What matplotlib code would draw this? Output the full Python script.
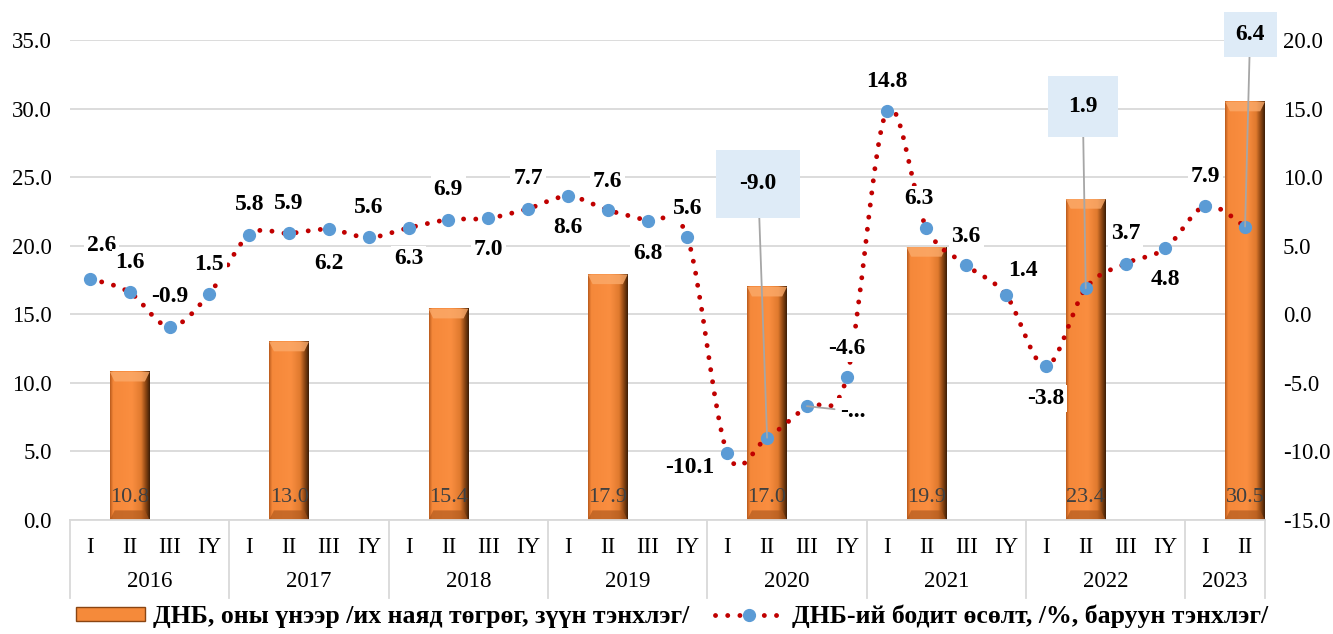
import matplotlib.pyplot as plt
import numpy as np
import matplotlib.transforms as mtransforms
from matplotlib.path import Path
from matplotlib.patches import PathPatch, Polygon, Patch
from matplotlib.lines import Line2D
from matplotlib.colors import LinearSegmentedColormap

plt.rcParams['font.family'] = ['Liberation Serif', 'DejaVu Serif']

# --- Données ---
years = ['2016', '2017', '2018', '2019', '2020', '2021', '2022', '2023']
quarters = ['I', 'II', 'III', 'IY'] * 7 + ['I', 'II']
growth = [2.6, 1.6, -0.9, 1.5,
          5.8, 5.9, 6.2, 5.6,
          6.3, 6.9, 7.0, 7.7,
          8.6, 7.6, 6.8, 5.6,
          -10.1, -9.0, -6.7, -4.6,
          14.8, 6.3, 3.6, 1.4,
          -3.8, 1.9, 3.7, 4.8,
          7.9, 6.4]
gdp_pos = [1, 5, 9, 13, 17, 21, 25, 29]
gdp = [10.8, 13.0, 15.4, 17.9, 17.0, 19.9, 23.4, 30.5]

# décalage des étiquettes (pixels)
label_offsets = [(12, 33), (0, 30), (0, 30), (0, 29),
                 (0, 30), (0, 30), (0, -34), (0, 30),
                 (0, -31), (0, 30), (0, -31), (0, 30),
                 (0, -31), (0, 29), (0, -32), (0, 29),
                 (-38, -15), (-9, 254), (46, -5), (0, 29),
                 (0, 30), (-7, 29), (0, 28), (17, 25),
                 (0, -32), (-3, 182), (0, 30), (0, -31),
                 (0, 29), (5, 192)]
callouts = {17: 1.0, 25: 0.85, 29: 0.5}

x = np.arange(len(growth))

fig = plt.figure(figsize=(13.33, 6.34), dpi=100)
ax = fig.add_axes([70 / 1333, 1 - 520 / 634, 1195 / 1333, 480 / 634])
ax2 = ax.twinx()

# --- Barres (dégradé orange) ---
cmap = LinearSegmentedColormap.from_list('bar', [
    (0.0, '#B85A1C'), (0.08, '#F5883A'), (0.55, '#FA8E40'),
    (0.78, '#E07A2E'), (0.9, '#8A4512'), (1.0, '#3C1D06')])
grad = np.linspace(0, 1, 256).reshape(1, -1)
bars = ax.bar(gdp_pos, gdp, width=1.0, color='#F58A3A', zorder=2)
for b, v in zip(bars, gdp):
    x0, x1 = b.get_x(), b.get_x() + b.get_width()
    ax.imshow(grad, cmap=cmap, extent=[x0, x1, 0, v], aspect='auto',
              zorder=2.1, clip_path=b, clip_on=True)
    xc = (x0 + x1) / 2
    ax.add_patch(Polygon([(x0, v), (x1, v), (x1 - 0.12, v - 0.7), (xc, v - 0.7), (x0 + 0.12, v - 0.7)],
                         closed=True, fc='#FBAA6A', ec='none', alpha=0.8, zorder=2.2))
    ax.add_patch(Polygon([(x0, 0), (x1, 0), (x1 - 0.12, 0.7), (x0 + 0.12, 0.7)],
                         closed=True, fc='#A8541A', ec='none', alpha=0.6, zorder=2.2))
    ax.annotate(f'{v:.1f}', xy=(xc, 0), xytext=(0, 23), textcoords='offset pixels',
                ha='center', va='center', fontsize=16, color='#404040', zorder=3)

# --- Courbe lissée (Bézier) ---
pts = np.column_stack([x, growth]).astype(float)
verts = [pts[0]]
codes = [Path.MOVETO]
for i in range(len(pts) - 1):
    p_prev = pts[i - 1] if i > 0 else pts[i]
    p_next2 = pts[i + 2] if i + 2 < len(pts) else pts[i + 1]
    c1 = pts[i] + (pts[i + 1] - p_prev) / 6
    c2 = pts[i + 1] - (p_next2 - pts[i]) / 6
    verts += [c1, c2, pts[i + 1]]
    codes += [Path.CURVE4] * 3
curve = PathPatch(Path(verts, codes), fill=False, edgecolor='#C00000', lw=3.5,
                  linestyle=(0, (0.01, 2.5)), zorder=3)
curve.set_capstyle('round')
ax2.add_patch(curve)
ax2.plot(x, growth, 'o', color='#5B9BD5', ms=8.5, ls='none', zorder=4)

# --- Étiquettes de la courbe ---
for i, v in enumerate(growth):
    txt = f'{v:.1f}' if i != 18 else '-...'
    kw = dict(xy=(i, v), xytext=label_offsets[i], textcoords='offset pixels',
              ha='center', va='center', fontsize=17, fontweight='bold', zorder=6)
    if i in callouts:
        ax2.annotate(txt, **kw,
                     bbox=dict(boxstyle=f'square,pad={callouts[i]}', fc='#DEEBF7', ec='none'),
                     arrowprops=dict(arrowstyle='-', color='#A6A6A6', lw=1.3, shrinkA=0, shrinkB=0))
    elif i == 18:
        ax2.annotate(txt, **kw,
                     bbox=dict(boxstyle='square,pad=0.12', fc='white', ec='none'),
                     arrowprops=dict(arrowstyle='-', color='#A6A6A6', lw=1.3, shrinkA=2, shrinkB=0))
    else:
        ax2.annotate(txt, **kw, bbox=dict(boxstyle='square,pad=0.12', fc='white', ec='none'))

# --- Axes ---
ax.set_xlim(-0.5, 29.5)
ax.set_ylim(0, 35)
ax2.set_ylim(-15, 20)
ax.set_yticks(np.arange(0, 36, 5))
ax2.set_yticks(np.arange(-15, 21, 5))
ax.set_yticklabels([f'{t:.1f}' for t in np.arange(0, 36, 5)])
ax2.set_yticklabels([f'{t:.1f}' for t in np.arange(-15, 21, 5)])
ax.set_xticks([])
ax.yaxis.grid(True, color='#D9D9D9', lw=1.3)
ax.set_axisbelow(True)
for a in (ax, ax2):
    for s in ('top', 'left', 'right'):
        a.spines[s].set_visible(False)
    a.tick_params(axis='y', length=0, labelsize=16.5, pad=13)
ax2.spines['bottom'].set_visible(False)
ax.spines['bottom'].set_color('#D9D9D9')
ax.spines['bottom'].set_linewidth(1.3)

trans = mtransforms.blended_transform_factory(ax.transData, ax.transAxes)
for i, q in enumerate(quarters):
    ax.text(i, -0.058, q, transform=trans, ha='center', va='center', fontsize=16.5, clip_on=False)
for k, yr in enumerate(years):
    xc = 4 * k + 1.5 if k < 7 else 28.5
    ax.text(xc, -0.129, yr, transform=trans, ha='center', va='center', fontsize=16.5, clip_on=False)
for sep in [-0.5, 3.5, 7.5, 11.5, 15.5, 19.5, 23.5, 27.5, 29.5]:
    ax.plot([sep, sep], [0, -0.1625], transform=trans, color='#D9D9D9', lw=1.3, clip_on=False)

# --- Légende ---
handles = [Patch(fc='#F58A3A', ec='#8A4512'),
           Line2D([], [], color='#C00000', ls=(0, (0.01, 2.5)), lw=3.5, dash_capstyle='round',
                  marker='o', mfc='#5B9BD5', mec='#5B9BD5', ms=8.5)]
labels = ['ДНБ, оны үнээр /их наяд төгрөг, зүүн тэнхлэг/',
          'ДНБ-ий бодит өсөлт, /%, баруун тэнхлэг/']
fig.legend(handles, labels, loc='center', bbox_to_anchor=(0.504, 0.028), ncol=2, frameon=False,
           prop={'weight': 'bold', 'size': 18.5}, handlelength=2.7, handleheight=0.5,
           handletextpad=0.3, columnspacing=1.0)

fig.savefig('out.png', dpi=100)
